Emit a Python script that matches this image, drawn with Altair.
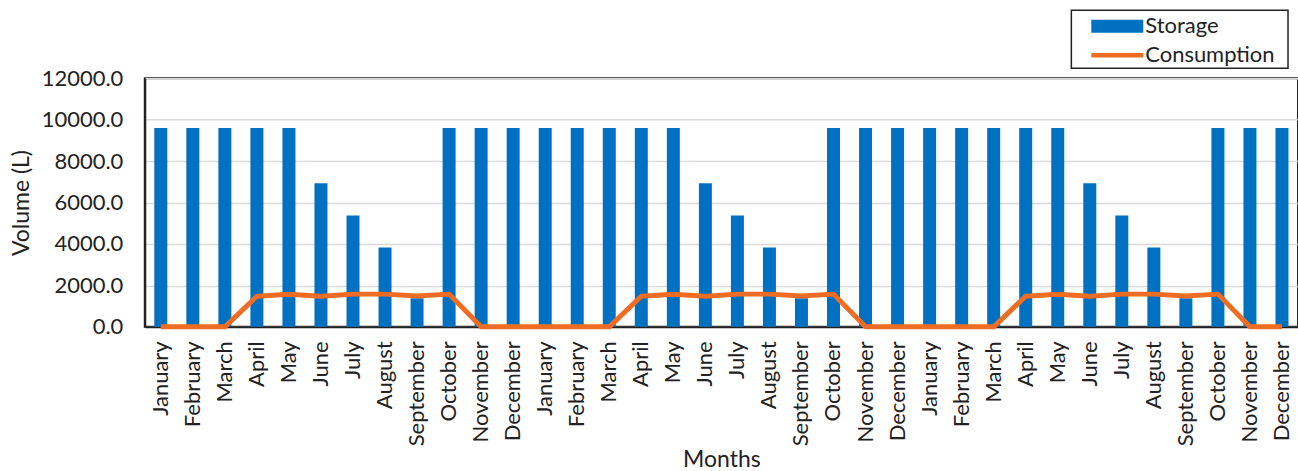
import altair as alt
import pandas as pd

months = ["January", "February", "March", "April", "May", "June", "July",
          "August", "September", "October", "November", "December"]
storage_year = [9600, 9600, 9600, 9600, 9600, 6930, 5380, 3830, 1380, 9600, 9600, 9600]
consumption_year = [0, 0, 0, 1480, 1570, 1480, 1580, 1580, 1490, 1580, 0, 0]
years = 3

rows = []
for y in range(years):
    for m in range(12):
        rows.append({
            "idx": y * 12 + m,
            "month": months[m],
            "storage": storage_year[m],
            "consumption": consumption_year[m],
        })
df = pd.DataFrame(rows)

FONT = "Lato"
BLUE = "#0070C0"
ORANGE = "#EF6C23"
TEXT = "#222222"

label_expr = "[" + ",".join("'%s'" % m for m in months) + "][datum.value % 12]"

x_enc = alt.X(
    "idx:O",
    title="Months",
    scale=alt.Scale(paddingInner=0, paddingOuter=0),
    axis=alt.Axis(
        labelExpr=label_expr,
        labelAngle=-90,
        labelFont=FONT,
        labelFontSize=22,
        labelColor=TEXT,
        labelPadding=14,
        ticks=False,
        domainColor=TEXT,
        domainWidth=2,
        titleFont=FONT,
        titleFontSize=23,
        titleFontWeight="normal",
        titleColor=TEXT,
        titlePadding=3,
    ),
)

y_enc = alt.Y(
    "storage:Q",
    title="Volume (L)",
    scale=alt.Scale(domain=[0, 12000]),
    axis=alt.Axis(
        values=[0, 2000, 4000, 6000, 8000, 10000, 12000],
        format=".1f",
        labelFont=FONT,
        labelFontSize=22,
        labelColor=TEXT,
        labelPadding=22,
        ticks=False,
        domain=True,
        domainColor=TEXT,
        domainWidth=2,
        gridColor="#D9D9D9",
        gridWidth=1.5,
        titleFont=FONT,
        titleFontSize=23,
        titleFontWeight="normal",
        titleColor=TEXT,
        titlePadding=8,
    ),
)

common_legend = dict(
    title=None,
    orient="none",
    direction="vertical",
    padding=0,
    labelFont=FONT,
    labelFontSize=22,
    labelColor=TEXT,
    symbolSize=676,
    symbolOffset=17,
    labelOffset=15,
    legendX=944,
)

bars = alt.Chart(df).mark_bar(size=13).encode(
    x=x_enc,
    y=y_enc,
    fill=alt.Fill(
        "series:N",
        scale=alt.Scale(domain=["Storage"], range=[BLUE]),
        legend=alt.Legend(
            legendY=-65,
            symbolType="M-2,-0.5H2V0.5H-2Z",
            symbolStrokeWidth=0,
            **common_legend,
        ),
    ),
).transform_calculate(series="'Storage'")

line = alt.Chart(df).mark_line(strokeWidth=5, strokeJoin="round").encode(
    x="idx:O",
    y="consumption:Q",
    stroke=alt.Stroke(
        "series:N",
        scale=alt.Scale(domain=["Consumption"], range=[ORANGE]),
        legend=alt.Legend(
            legendY=-36,
            symbolType="M-2,-0.17H2V0.17H-2Z",
            symbolFillColor=ORANGE,
            symbolStrokeWidth=0,
            **common_legend,
        ),
    ),
).transform_calculate(series="'Consumption'")

legend_box = alt.Chart(pd.DataFrame({"k": [0]})).mark_rect(
    fill="white", stroke=TEXT, strokeWidth=1.5
).encode(
    x=alt.value(928), x2=alt.value(1145),
    y=alt.value(-68), y2=alt.value(-10),
)

chart = alt.layer(bars, line, legend_box).properties(
    width=1155,
    height=249,
    padding={"left": 145, "top": 78, "right": 0, "bottom": 144},
    autosize=alt.AutoSizeParams(type="none"),
).resolve_scale(fill="independent", stroke="independent").configure_view(
    stroke=TEXT, strokeWidth=2
)

chart.save("out.html", embed_options={"renderer": "svg", "actions": False})
